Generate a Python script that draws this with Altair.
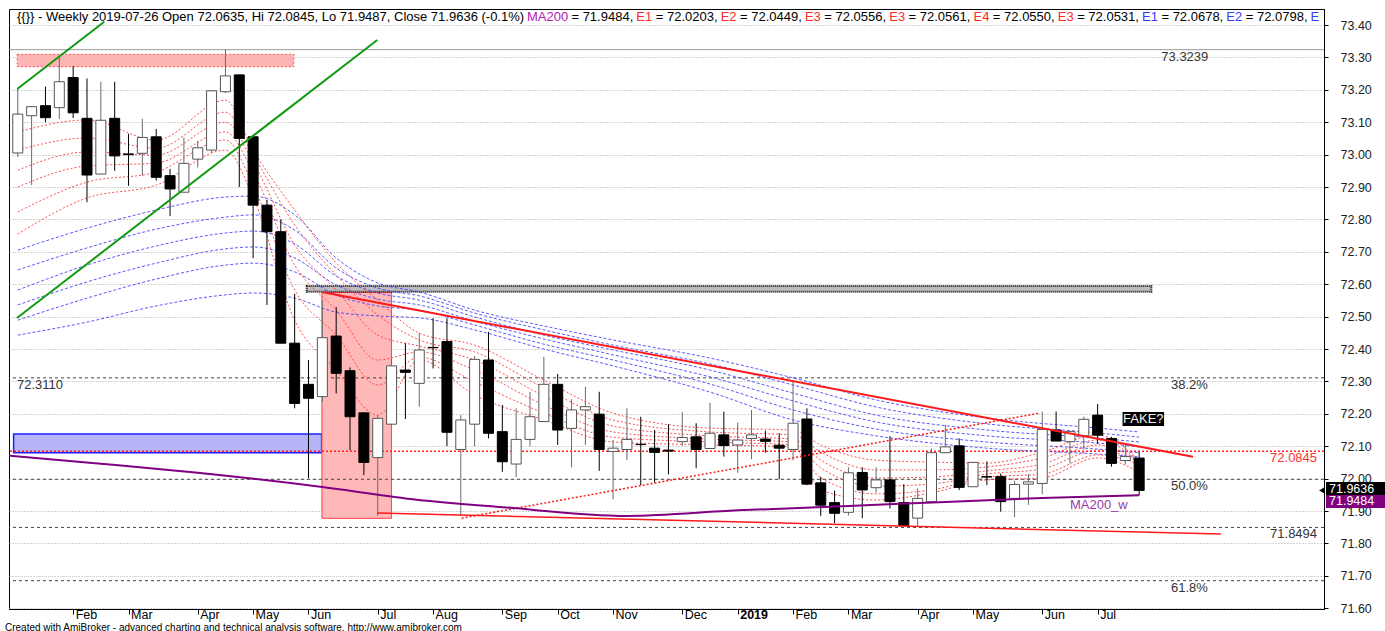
import altair as alt
import pandas as pd

# ---------------- candle data (weekly bars, bar 0 = 2018-01-05) ----------------
opens = [73.005, 73.120, 73.151, 73.145, 73.238, 73.112, 72.940, 73.112, 73.002, 73.004,
         73.055, 72.935, 72.884, 72.986, 73.014, 73.194, 73.246, 73.055, 72.844, 72.762,
         72.418, 72.291, 72.253, 72.440, 72.333, 72.203, 72.065, 72.168, 72.335, 72.294,
         72.405, 72.423, 72.090, 72.168, 72.366, 72.145, 72.045, 72.121, 72.176, 72.291,
         72.155, 72.212, 72.199, 72.084, 72.090, 72.106, 72.094, 72.088, 72.114, 72.129,
         72.093, 72.135, 72.104, 72.124, 72.122, 72.103, 72.090, 72.184, 71.987, 71.926,
         71.896, 72.019, 71.972, 71.996, 71.926, 71.878, 71.929, 72.080, 72.101, 71.975,
         72.006, 72.006, 71.939, 71.983, 71.985, 72.150, 72.114, 72.132, 72.196, 72.124,
         72.056, 72.0635]
highs = [73.2025, 73.150, 73.210, 73.300, 73.273, 73.235, 73.225, 73.225, 73.064, 73.110,
         73.079, 72.956, 73.053, 73.042, 73.197, 73.3239, 73.246, 73.060, 72.860, 72.800,
         72.570, 72.366, 72.551, 72.530, 72.343, 72.205, 72.196, 72.368, 72.418, 72.448,
         72.495, 72.495, 72.196, 72.378, 72.453, 72.227, 72.217, 72.268, 72.376, 72.323,
         72.245, 72.284, 72.268, 72.119, 72.217, 72.191, 72.150, 72.168, 72.205, 72.171,
         72.234, 72.207, 72.173, 72.212, 72.148, 72.140, 72.299, 72.217, 72.006, 71.963,
         72.035, 72.035, 72.035, 72.131, 71.983, 71.970, 72.093, 72.166, 72.124, 72.050,
         72.053, 72.016, 71.993, 72.014, 72.207, 72.207, 72.145, 72.191, 72.230, 72.129,
         72.104, 72.0845]
lows = [72.993, 72.906, 73.100, 73.110, 73.113, 72.853, 72.940, 72.950, 72.904, 72.935,
        72.920, 72.810, 72.884, 72.960, 73.006, 73.190, 72.900, 72.680, 72.536, 72.418,
        72.217, 72.001, 72.237, 72.263, 72.088, 72.011, 71.885, 72.168, 72.184, 72.222,
        72.340, 72.100, 71.885, 72.100, 72.124, 72.021, 72.004, 72.100, 72.176, 72.104,
        72.035, 72.104, 72.024, 71.936, 72.057, 71.980, 71.988, 72.013, 72.101, 72.032,
        72.093, 72.068, 72.018, 72.060, 72.080, 71.998, 72.057, 71.980, 71.885, 71.862,
        71.886, 71.878, 71.957, 71.908, 71.855, 71.852, 71.929, 72.080, 71.965, 71.975,
        71.980, 71.898, 71.881, 71.919, 71.952, 72.116, 72.047, 72.090, 72.107, 72.037,
        72.044, 71.9487]
closes = [73.125, 73.148, 73.114, 73.225, 73.129, 72.937, 73.106, 72.996, 73.000, 73.053,
          72.930, 72.894, 72.973, 73.021, 73.197, 73.243, 73.050, 72.844, 72.762, 72.418,
          72.232, 72.248, 72.435, 72.325, 72.191, 72.050, 72.186, 72.348, 72.328, 72.397,
          72.404, 72.143, 72.181, 72.368, 72.140, 72.052, 72.121, 72.191, 72.291, 72.150,
          72.212, 72.222, 72.090, 72.094, 72.121, 72.105, 72.081, 72.085, 72.127, 72.090,
          72.140, 72.102, 72.119, 72.135, 72.115, 72.094, 72.171, 71.983, 71.918, 71.893,
          72.018, 71.965, 71.996, 71.929, 71.855, 71.939, 72.080, 72.098, 71.973, 72.050,
          72.005, 71.929, 71.982, 71.990, 72.152, 72.116, 72.145, 72.183, 72.134, 72.047,
          72.068, 71.9636]

# ---------------- axis ticks ----------------
month_ticks = [4, 8, 13, 17, 21, 26, 30, 35, 39, 43, 48, 52, 56, 60, 65, 69, 74, 78]
month_labels = ["Feb", "Mar", "Apr", "May", "Jun", "Jul", "Aug", "Sep", "Oct", "Nov",
                "Dec", "2019", "Feb", "Mar", "Apr", "May", "Jun", "Jul"]
price_ticks = [71.6, 71.7, 71.8, 71.9, 72.0, 72.1, 72.2, 72.3, 72.4, 72.5,
               72.6, 72.7, 72.8, 72.9, 73.0, 73.1, 73.2, 73.3, 73.4]

# ---------------- moving-average ribbons (read at sample bars) ----------------
red_bars = [0, 5, 10, 15, 17, 20, 23, 26, 29, 33, 38, 43, 50, 56, 58, 62, 66, 70, 74, 78, 81]
red_ribbon = [
    [73.070, 73.014, 72.952, 72.900, 72.823, 72.755],
    [73.107, 73.051, 73.008, 72.965, 72.915, 72.866],
    [73.045, 73.020, 72.999, 72.974, 72.946, 72.906],
    [73.168, 73.131, 73.100, 73.070, 73.045, 73.014],
    [73.014, 72.999, 72.977, 72.946, 72.906, 72.869],
    [72.829, 72.783, 72.721, 72.659, 72.582, 72.489],
    [72.666, 72.628, 72.582, 72.520, 72.443, 72.335],
    [72.551, 72.505, 72.443, 72.366, 72.289, 72.196],
    [72.449, 72.428, 72.409, 72.391, 72.375, 72.366],
    [72.412, 72.391, 72.366, 72.335, 72.298, 72.258],
    [72.304, 72.280, 72.255, 72.227, 72.202, 72.181],
    [72.202, 72.181, 72.162, 72.144, 72.128, 72.113],
    [72.156, 72.144, 72.132, 72.122, 72.113, 72.104],
    [72.150, 72.135, 72.122, 72.113, 72.104, 72.098],
    [72.104, 72.082, 72.057, 72.033, 72.002, 71.965],
    [72.057, 72.027, 72.002, 71.977, 71.953, 71.934],
    [72.051, 72.027, 72.005, 71.983, 71.965, 71.956],
    [72.048, 72.036, 72.024, 72.014, 72.005, 71.996],
    [72.082, 72.064, 72.045, 72.030, 72.014, 72.002],
    [72.135, 72.119, 72.104, 72.088, 72.073, 72.064],
    [72.0561, 72.0556, 72.0550, 72.0531, 72.0449, 72.0203],
]
blue_bars = [0, 5, 10, 15, 17, 20, 23, 26, 29, 33, 38, 43, 50, 56, 62, 70, 78, 81]
blue_ribbon = [
    [72.705, 72.644, 72.582, 72.536, 72.489, 72.443],
    [72.773, 72.712, 72.659, 72.607, 72.557, 72.483],
    [72.829, 72.770, 72.718, 72.665, 72.616, 72.533],
    [72.869, 72.807, 72.758, 72.709, 72.659, 72.567],
    [72.872, 72.814, 72.764, 72.715, 72.665, 72.573],
    [72.814, 72.767, 72.724, 72.681, 72.638, 72.557],
    [72.681, 72.650, 72.625, 72.598, 72.567, 72.514],
    [72.604, 72.588, 72.573, 72.554, 72.533, 72.502],
    [72.576, 72.564, 72.551, 72.536, 72.520, 72.496],
    [72.520, 72.511, 72.499, 72.486, 72.474, 72.459],
    [72.471, 72.459, 72.443, 72.431, 72.415, 72.400],
    [72.428, 72.412, 72.397, 72.382, 72.366, 72.348],
    [72.372, 72.354, 72.335, 72.314, 72.292, 72.267],
    [72.311, 72.289, 72.264, 72.240, 72.212, 72.181],
    [72.243, 72.221, 72.196, 72.175, 72.153, 72.132],
    [72.187, 72.169, 72.150, 72.132, 72.113, 72.094],
    [72.156, 72.141, 72.125, 72.110, 72.091, 72.076],
    [72.144, 72.128, 72.113, 72.098, 72.0798, 72.0678],
]

# MA200 (weekly)
ma_bars = [-1, 6, 13, 22, 28, 35, 44, 52, 60, 67, 74, 81]
ma_vals = [72.072, 72.046, 72.018, 71.974, 71.939, 71.912, 71.885, 71.902, 71.9155, 71.928, 71.940, 71.9484]

# ---------------- drawn studies ----------------
levels_fib = [72.3110, 71.998, 71.685, 71.8494]
level_high = 73.3239
level_red = 72.0845

lines = {
    "down_trend": ([22.04, 84.89], [72.575, 72.0676]),
    "support": ([25.96, 86.9], [71.894, 71.829]),
    "rising_dotted": ([32.06, 73.85], [71.878, 72.2025]),
    "green_top": ([-0.04, 6.25], [73.2025, 73.410]),
    "green_low": ([-0.06, 25.97], [72.4957, 73.3537]),
}

rect_top_pink = dict(x=-0.04, x2=19.94, y=73.2713, y2=73.3096)
rect_blue = dict(x=-0.3, x2=21.95, y=72.080, y2=72.138)
rect_tall_pink = dict(x=21.97, x2=26.99, y=71.8775, y2=72.575)
rect_band = dict(x=20.87, x2=81.88, y=72.577, y2=72.5945)
rect_fake = dict(x=79.8, x2=82.8, y=72.1624, y2=72.2056)

# ---------------- frames ----------------
candles = pd.DataFrame({"bar": list(range(len(opens))), "o": opens, "h": highs,
                        "l": lows, "c": closes})

red_rows = []
for b, row in zip(red_bars, red_ribbon):
    for k, v in enumerate(row):
        red_rows.append({"bar": b, "v": v, "s": f"r{k}"})
red_df = pd.DataFrame(red_rows)
blue_rows = []
for b, row in zip(blue_bars, blue_ribbon):
    for k, v in enumerate(row):
        blue_rows.append({"bar": b, "v": v, "s": f"b{k}"})
blue_df = pd.DataFrame(blue_rows)
ma_df = pd.DataFrame({"bar": ma_bars, "v": ma_vals})

FONT = "Liberation Sans"
XDOM = [-0.272, 93.99]
PLOT_W = 1315
xscale = alt.Scale(domain=XDOM, nice=False, zero=False)
yscale = alt.Scale(domain=[71.5976, 73.4494], nice=False, zero=False)

label_expr = " : ".join(f"datum.value == {t} ? '{l}'" for t, l in zip(month_ticks, month_labels)) + " : ''"
xaxis = alt.Axis(values=month_ticks, labelExpr=label_expr, grid=False, tickSize=5,
                 tickColor="#000", domainColor="#000", labelAlign="left", labelPadding=-6,
                 labelOffset=2, labelFont=FONT, labelFontSize=12.5, labelColor="#000",
                 labelBaseline="top", title=None, zindex=0,
                 labelFontWeight={"condition": {"test": "datum.value == 52", "value": "bold"},
                                  "value": "normal"})
yaxis = alt.Axis(orient="right", values=price_ticks, format=".2f", grid=True,
                 gridDash=[1, 2], gridColor="#a8a8a8", tickSize=4, tickColor="#000",
                 domainColor="#000", labelPadding=12, labelFont=FONT, labelFontSize=12.5,
                 labelColor="#222", title=None, zindex=0)


def XE(field):
    return alt.X(field, scale=xscale, axis=xaxis, title=None)


def YE(field):
    return alt.Y(field, scale=yscale, axis=yaxis, title=None)


def rect_layer(r, **style):
    df = pd.DataFrame([r])
    return alt.Chart(df).mark_rect(clip=True, **style).encode(
        x=XE("x:Q"), x2="x2:Q", y=YE("y:Q"), y2="y2:Q")


def line_layer(name, **style):
    xs, vs = lines[name]
    df = pd.DataFrame({"bar": xs, "v": vs})
    return alt.Chart(df).mark_line(clip=True, **style).encode(x=XE("bar:Q"), y=YE("v:Q"))


layers = []
layers.append(rect_layer(rect_top_pink, fill="#ffb4b4", stroke="#ff5050", strokeDash=[2, 2], strokeWidth=1))
layers.append(rect_layer(rect_blue, fill="#b4b4f6", stroke="#2020ff", strokeWidth=1.5))
layers.append(rect_layer(rect_tall_pink, fill="#ffb8b8", stroke="#ff4040", strokeWidth=1))
layers.append(rect_layer(rect_band, fill="#bdbdbd", stroke="#111", strokeDash=[1, 1], strokeWidth=2))

# horizontal levels
layers.append(alt.Chart(pd.DataFrame({"v": levels_fib})).mark_rule(
    color="#444", strokeDash=[3, 3], strokeWidth=1).encode(y=YE("v:Q")))
layers.append(alt.Chart(pd.DataFrame({"v": [level_high]})).mark_rule(
    color="#999", strokeWidth=1).encode(y=YE("v:Q")))
layers.append(alt.Chart(pd.DataFrame({"v": [level_red]})).mark_rule(
    color="#ff2020", strokeDash=[2, 2], strokeWidth=1.5).encode(y=YE("v:Q")))

# ribbons (behind the candles)
layers.append(alt.Chart(blue_df).mark_line(strokeDash=[3, 2], strokeWidth=1, color="#3c3cff",
                                           opacity=0.85, clip=True, interpolate="monotone").encode(
    x=XE("bar:Q"), y=YE("v:Q"), detail="s:N"))
layers.append(alt.Chart(red_df).mark_line(strokeDash=[2, 2], strokeWidth=1, color="#ff3030",
                                          opacity=0.85, clip=True, interpolate="monotone").encode(
    x=XE("bar:Q"), y=YE("v:Q"), detail="s:N"))

# candles
up = "datum.c >= datum.o"
layers.append(alt.Chart(candles).mark_rule(strokeWidth=1, clip=True).encode(
    x=XE("bar:Q"), y=YE("l:Q"), y2="h:Q",
    color=alt.condition(up, alt.value("#6a6a6a"), alt.value("#000"))))
layers.append(alt.Chart(candles).mark_bar(size=10, strokeWidth=1, clip=True).encode(
    x=XE("bar:Q"), y=YE("o:Q"), y2="c:Q",
    fill=alt.condition("datum.c > datum.o", alt.value("#ffffff"), alt.value("#000000")),
    stroke=alt.condition("datum.c > datum.o", alt.value("#555"), alt.value("#000"))))

# trend lines
layers.append(line_layer("green_top", color="#129a12", strokeWidth=2))
layers.append(line_layer("green_low", color="#129a12", strokeWidth=2))
layers.append(line_layer("down_trend", color="#ff1a1a", strokeWidth=2))
layers.append(line_layer("support", color="#ff1a1a", strokeWidth=1.5))
layers.append(line_layer("rising_dotted", color="#ff1a1a", strokeWidth=1.5, strokeDash=[2, 2]))

# MA200
layers.append(alt.Chart(ma_df).mark_line(color="#800080", strokeWidth=2, clip=True,
                                         interpolate="monotone").encode(x=XE("bar:Q"), y=YE("v:Q")))

# level labels
left_labels = pd.DataFrame({"t": ["73.3239", "38.2%", "50.0%", "61.8%", "72.3110"],
                            "bar": [82.6, 83.3, 83.3, 83.3, -0.06],
                            "v": [73.3239, 72.3110, 71.998, 71.685, 72.3110]})
layers.append(alt.Chart(left_labels).mark_text(align="left", baseline="top", dy=1, font=FONT,
                                               fontSize=13, color="#333").encode(
    x=XE("bar:Q"), y=YE("v:Q"), text="t:N"))
right_labels = pd.DataFrame({"t": ["72.0845", "71.8494"], "bar": [93.85, 93.85],
                             "v": [72.0845, 71.8494], "col": ["#ff3030", "#333333"]})
layers.append(alt.Chart(right_labels).mark_text(align="right", baseline="top", dy=1, font=FONT,
                                                fontSize=13).encode(
    x=XE("bar:Q"), y=YE("v:Q"), text="t:N", color=alt.Color("col:N", scale=None)))
layers.append(alt.Chart(pd.DataFrame({"t": ["MA200_w"], "bar": [76.0], "v": [71.9186]})).mark_text(
    align="left", baseline="middle", font=FONT, fontSize=13, color="#9a3aa8").encode(
    x=XE("bar:Q"), y=YE("v:Q"), text="t:N"))

# FAKE? box
layers.append(rect_layer(rect_fake, fill="#000"))
layers.append(alt.Chart(pd.DataFrame({"t": ["FAKE?"], "bar": [81.3], "v": [72.184]})).mark_text(
    align="center", baseline="middle", font=FONT, fontSize=13, color="#f0f0f0").encode(
    x=XE("bar:Q"), y=YE("v:Q"), text="t:N"))

# price tags on the right axis
tags = pd.DataFrame({"t": ["71.9636", "71.9484"], "y": [71.9895, 71.9494], "y2": [71.9494, 71.9093],
                     "mid": [71.9695, 71.9294], "col": ["#000000", "#800080"]})
layers.append(alt.Chart(tags).mark_rect().encode(
    x=alt.value(1317), x2=alt.value(1376),
    y=YE("y:Q"), y2="y2:Q", fill=alt.Color("col:N", scale=None)))
layers.append(alt.Chart(tags).mark_text(align="left", baseline="middle", font=FONT, fontSize=12.5,
                                        color="#fff").encode(
    x=alt.value(1320), y=YE("mid:Q"), text="t:N"))
layers.append(alt.Chart(pd.DataFrame({"v": [71.9636]})).mark_point(
    shape="triangle-left", filled=True, size=45, color="#000", opacity=1).encode(
    x=alt.value(1313), y=YE("v:Q")))

# title (multi-coloured), laid out with Arial advance widths
AW = {' ': 278, '%': 889, '(': 333, ')': 333, ',': 278, '-': 333, '.': 278, '=': 584,
      'A': 667, 'C': 722, 'E': 667, 'H': 722, 'L': 556, 'M': 833, 'O': 778, 'W': 944,
      'e': 556, 'i': 222, 'k': 500, 'l': 222, 'n': 556, 'o': 556, 'p': 556, 's': 500,
      'y': 500, '{': 334, '}': 334}
TFS = 13


def tw(s):
    return sum(AW.get(ch, 556) for ch in s) * TFS / 1000.0


def px_to_bar(px):
    return XDOM[0] + px / PLOT_W * (XDOM[1] - XDOM[0])


RED, BLUE, BLK, PUR = "#ff2a2a", "#3a3aff", "#000000", "#b020b0"
title_segments = [
    ("{{}} - Weekly 2019-07-26 Open 72.0635, Hi 72.0845, Lo 71.9487, Close 71.9636 (-0.1%) ", BLK),
    ("MA200", PUR), (" = 71.9484, ", BLK),
    ("E1", RED), (" = 72.0203, ", BLK), ("E2", RED), (" = 72.0449, ", BLK),
    ("E3", RED), (" = 72.0556, ", BLK), ("E3", RED), (" = 72.0561, ", BLK),
    ("E4", RED), (" = 72.0550, ", BLK), ("E3", RED), (" = 72.0531, ", BLK),
    ("E1", BLUE), (" = 72.0678, ", BLK), ("E2", BLUE), (" = 72.0798, ", BLK), ("E", BLUE),
]
cursor = 3.0
trows = []
for k, (s, col) in enumerate(title_segments):
    lead = len(s) - len(s.lstrip(" "))
    trows.append({"t": s.strip(" "), "bar": px_to_bar(cursor + tw(s[:lead])), "col": col})
    cursor += tw(s) + (3.0 if k == 0 else 0.0)
title_df = pd.DataFrame(trows)
layers.append(alt.Chart(title_df).mark_text(align="left", baseline="middle", font=FONT,
                                            fontSize=TFS).encode(
    x=XE("bar:Q"), y=alt.value(8), text="t:N", color=alt.Color("col:N", scale=None)))

# footer
layers.append(alt.Chart(pd.DataFrame({"t": ["Created with AmiBroker - advanced charting and technical analysis software. http://www.amibroker.com"]})).mark_text(
    align="left", baseline="middle", font=FONT, fontSize=10, color="#000").encode(
    x=alt.value(-4), y=alt.value(618.5), text="t:N"))

chart = alt.layer(*layers).properties(
    width=PLOT_W, height=600,
    padding={"left": 9, "top": 9, "right": 61, "bottom": 22},
    autosize=alt.AutoSizeParams(type="none"),
    background="#ffffff",
).configure_view(stroke="#000", strokeWidth=1)

chart.save("out.html", embed_options={"renderer": "svg", "actions": False})
